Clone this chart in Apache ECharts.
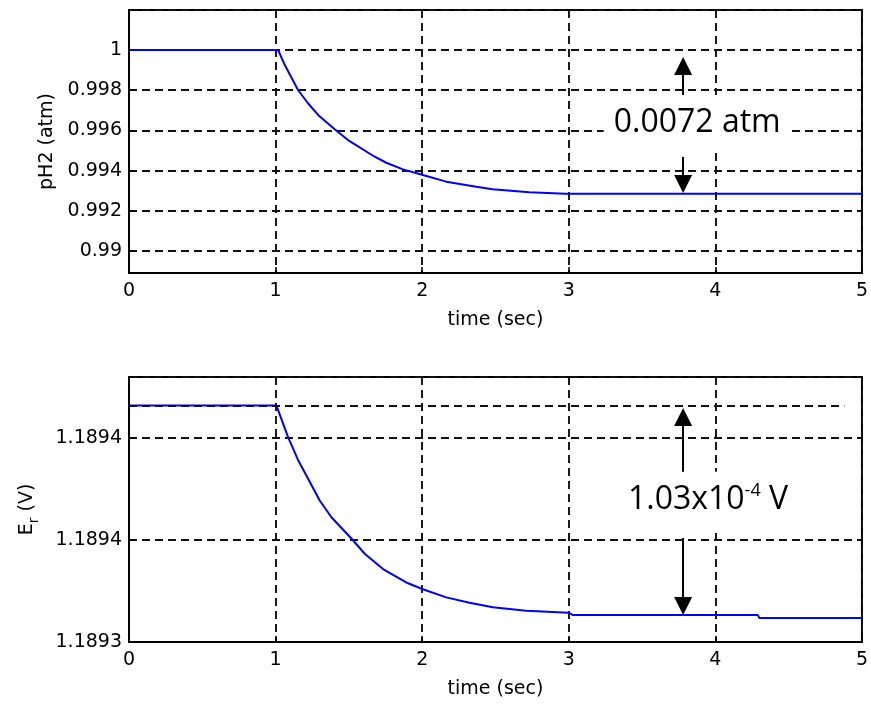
<!DOCTYPE html>
<html>
<head>
<meta charset="utf-8">
<script src="https://cdn.jsdelivr.net/npm/echarts@6/dist/echarts.min.js"></script>
<style>
  html, body {margin: 0; padding: 0; background: #fff;}
  #main {width: 871px; height: 704px;}
</style>
</head>
<body>
<div id="main"></div>
<script>
// top plot: hydrogen partial pressure
const topTime = [0, 1.017, 1.063, 1.153, 1.221, 1.29, 1.403, 1.494, 1.676, 1.755, 1.869, 2.005, 2.164, 2.369, 2.48, 2.73, 2.98, 5.0];
const topPH2 = [1.0, 1.0, 0.99925, 0.99801, 0.99735, 0.99677, 0.99606, 0.99552, 0.99469, 0.99439, 0.99406, 0.99378, 0.99345, 0.99320, 0.99307, 0.99292, 0.99285, 0.99285];
const topYTicks = [0.99, 0.992, 0.994, 0.996, 0.998, 1.0];

// bottom plot: reversible voltage
const botTime = [0, 1.006, 1.085, 1.153, 1.221, 1.301, 1.381, 1.528, 1.608, 1.733, 1.891, 2.005, 2.164, 2.323, 2.482, 2.709, 3.0, 3.03, 4.29, 4.30, 5.0];
const botEr = [1.189416, 1.189416, 1.1894005, 1.1893893, 1.1893802, 1.1893694, 1.1893612, 1.1893499, 1.1893433, 1.1893358, 1.1893292, 1.1893259, 1.1893219, 1.1893193, 1.1893170, 1.1893153, 1.1893143, 1.1893132, 1.1893132, 1.1893118, 1.1893118];
const botYTicks = [1.1893, 1.18935, 1.1894];

const xTicks = [0, 1, 2, 3, 4, 5];

const zip = (xs, ys) => xs.map((x, i) => [x, ys[i]]);
const nearTick = (v, ticks) => ticks.some(t => Math.abs(t - v) < 1e-9);

const tickFont = {fontFamily: 'DejaVu Sans', fontSize: 19, color: '#000'};
const gridLine = {show: true, lineStyle: {color: '#111', width: 1.9, type: [8, 5]}};
const tickStyle = {show: true, inside: true, length: 6, lineStyle: {color: '#000', width: 1.5}};
const arrowLine = {color: '#000', width: 2, type: 'solid'};

const xAxisBase = (gridIndex) => ({
  type: 'value',
  gridIndex: gridIndex,
  min: 0,
  max: 5,
  interval: 1,
  name: 'time (sec)',
  nameLocation: 'middle',
  nameGap: 38,
  nameTextStyle: {fontFamily: 'DejaVu Sans', fontSize: 19, color: '#000'},
  axisLine: {show: true, lineStyle: {color: '#000', width: 2}},
  axisTick: tickStyle,
  axisLabel: Object.assign({margin: 9, formatter: (v) => nearTick(v, xTicks) ? String(v) : ''}, tickFont),
  splitLine: gridLine,
});

var myChart = echarts.init(document.getElementById('main'));

var option = {
  animation: false,
  backgroundColor: '#fff',
  grid: [
    {left: 129, right: 9, top: 10, height: 263, show: true, borderColor: '#000', borderWidth: 2, backgroundColor: '#fff'},
    {left: 129, right: 9, top: 377, height: 265, show: true, borderColor: '#000', borderWidth: 2, backgroundColor: '#fff'},
  ],
  xAxis: [xAxisBase(0), xAxisBase(1)],
  yAxis: [
    {
      type: 'value',
      gridIndex: 0,
      min: 0.988905,
      max: 1.00199,
      minInterval: 0.002,
      maxInterval: 0.002,
      name: 'pH2 (atm)',
      nameLocation: 'middle',
      nameGap: 70,
      nameTextStyle: {fontFamily: 'DejaVu Sans', fontSize: 19, color: '#000'},
      axisLine: {show: true, lineStyle: {color: '#000', width: 2}},
      axisTick: tickStyle,
      axisLabel: Object.assign({margin: 7, formatter: (v) => nearTick(v, topYTicks) ? String(parseFloat(v.toFixed(3))) : ''}, tickFont),
      splitLine: gridLine,
    },
    {
      type: 'value',
      gridIndex: 1,
      min: 1.1893,
      max: 1.18943,
      minInterval: 0.00005,
      maxInterval: 0.00005,
      name: '{n|E}{s|r}{n| (V)}',
      nameLocation: 'middle',
      nameGap: 88,
      nameTextStyle: {
        rich: {
          n: {fontFamily: 'DejaVu Sans', fontSize: 19, color: '#000', lineHeight: 28},
          s: {fontFamily: 'DejaVu Sans', fontSize: 14, color: '#000', verticalAlign: 'bottom'},
        },
      },
      axisLine: {show: true, lineStyle: {color: '#000', width: 2}},
      axisTick: tickStyle,
      axisLabel: Object.assign({margin: 7, formatter: (v) => nearTick(v, botYTicks) ? (v + 1e-9).toFixed(4) : ''}, tickFont),
      splitLine: gridLine,
    },
  ],
  series: [
    {
      type: 'line',
      xAxisIndex: 0,
      yAxisIndex: 0,
      data: zip(topTime, topPH2),
      showSymbol: false,
      lineStyle: {color: '#0000ff', width: 2},
      markLine: {
        silent: true,
        symbol: ['none', 'triangle'],
        symbolSize: [18, 18],
        label: {show: false},
        lineStyle: arrowLine,
        data: [
          [{coord: [3.78, 0.99746]}, {coord: [3.78, 0.999204]}],
          [{coord: [3.78, 0.99468]}, {coord: [3.78, 0.993333]}],
        ],
      },
      markPoint: {
        silent: true,
        data: [{
          coord: [3.876, 0.99637],
          symbol: 'rect',
          symbolSize: 1,
          itemStyle: {color: 'rgba(0,0,0,0)'},
          label: {
            show: true,
            position: 'inside',
            formatter: '0.0072 atm',
            fontFamily: 'Open Sans',
            fontSize: 32,
            color: '#000',
            backgroundColor: '#fff',
            padding: [12, 10, 12, 10],
          },
        }],
      },
    },
    {
      type: 'line',
      xAxisIndex: 1,
      yAxisIndex: 1,
      data: zip(botTime, botEr),
      showSymbol: false,
      lineStyle: {color: '#0000ff', width: 2},
      markLine: {
        silent: true,
        symbol: ['none', 'triangle'],
        symbolSize: [18, 18],
        label: {show: false},
        lineStyle: arrowLine,
        data: [
          [{coord: [0, 1.189416], symbol: 'none', lineStyle: {color: '#111', width: 1.9, type: [8, 5]}}, {coord: [4.88, 1.189416], symbol: 'none'}],
          [{coord: [3.78, 1.1893785]}, {coord: [3.78, 1.1894104]}],
          [{coord: [3.78, 1.189351]}, {coord: [3.78, 1.1893177]}],
        ],
      },
      markPoint: {
        silent: true,
        data: [{
          coord: [3.95, 1.1893688],
          symbol: 'rect',
          symbolSize: 1,
          itemStyle: {color: 'rgba(0,0,0,0)'},
          label: {
            show: true,
            position: 'inside',
            formatter: '{n|1.03x10}{p|-4}{n| V}',
            backgroundColor: '#fff',
            padding: [10, 10, 14, 10],
            rich: {
              n: {fontFamily: 'Open Sans', fontSize: 32, color: '#000', lineHeight: 36},
              p: {fontFamily: 'Open Sans', fontSize: 18, color: '#000', verticalAlign: 'top'},
            },
          },
        }],
      },
    },
  ],
};

myChart.setOption(option);
</script>
</body>
</html>
